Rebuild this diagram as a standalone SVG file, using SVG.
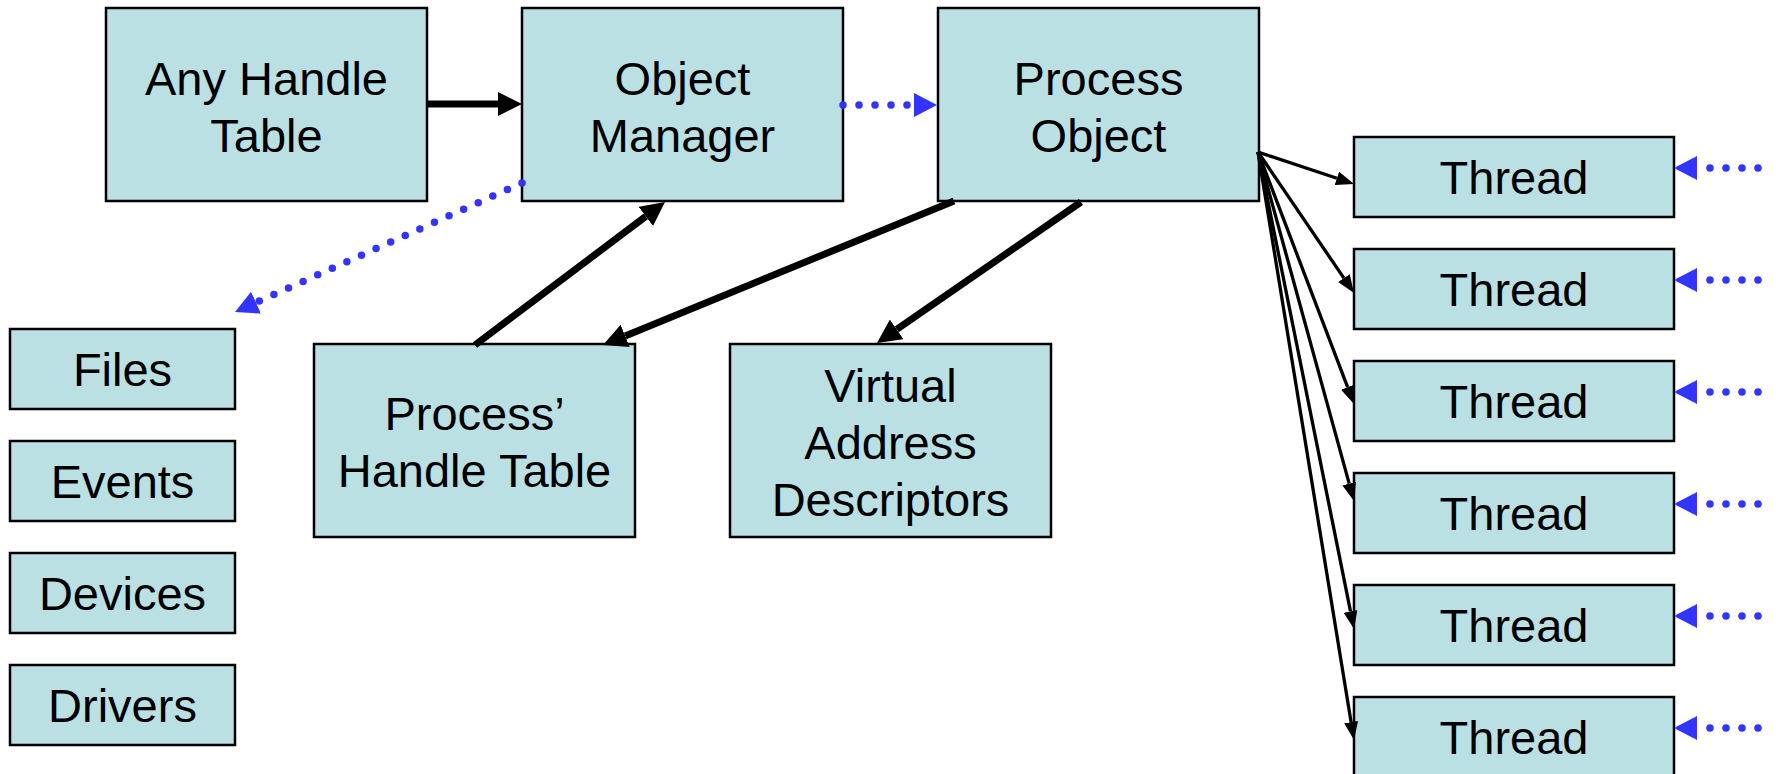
<svg xmlns="http://www.w3.org/2000/svg" width="1776" height="774" viewBox="0 0 1776 774">
<style>
.box{fill:#BBE0E3;stroke:#000;stroke-width:2.5}
.lbl{font-family:"Liberation Sans",Arial,sans-serif;font-size:47px;fill:#000;text-anchor:middle}
.thick{stroke:#000;stroke-width:7;fill:none;marker-end:url(#ahBlack)}
.thin{stroke:#000;stroke-width:3.3;fill:none;marker-end:url(#ahThin)}
.dots{stroke:#3333FF;stroke-width:7.5;stroke-linecap:round;stroke-dasharray:0 16;fill:none;marker-end:url(#ahBlue)}
</style>
<defs>
<marker id="ahBlack" markerUnits="userSpaceOnUse" markerWidth="24" markerHeight="24" viewBox="0 0 24 24" refX="0" refY="12" orient="auto"><path d="M0,0 L24,12 L0,24 z" fill="#000"/></marker>
<marker id="ahThin" markerUnits="userSpaceOnUse" markerWidth="18" markerHeight="14" viewBox="0 0 18 14" refX="0" refY="7" orient="auto"><path d="M0,0 L18,7 L0,14 z" fill="#000"/></marker>
<marker id="ahBlue" markerUnits="userSpaceOnUse" markerWidth="23" markerHeight="24" viewBox="0 0 23 24" refX="0" refY="12" orient="auto"><path d="M0,0 L23,12 L0,24 z" fill="#3333FF"/></marker>
</defs>
<rect width="1776" height="774" fill="#fff"/>
<g id="any-handle-table"><rect class="box" x="106" y="8" width="321" height="193"/><text class="lbl" x="266.5" y="95">Any Handle</text><text class="lbl" x="266.5" y="152">Table</text></g>
<g id="object-manager"><rect class="box" x="522" y="8" width="321" height="193"/><text class="lbl" x="682.5" y="95">Object</text><text class="lbl" x="682.5" y="152">Manager</text></g>
<g id="process-object"><rect class="box" x="938" y="8" width="321" height="193"/><text class="lbl" x="1098.5" y="95">Process</text><text class="lbl" x="1098.5" y="152">Object</text></g>
<g id="files"><rect class="box" x="10" y="329" width="225" height="80"/><text class="lbl" x="122.5" y="386">Files</text></g>
<g id="events"><rect class="box" x="10" y="441" width="225" height="80"/><text class="lbl" x="122.5" y="498">Events</text></g>
<g id="devices"><rect class="box" x="10" y="553" width="225" height="80"/><text class="lbl" x="122.5" y="610">Devices</text></g>
<g id="drivers"><rect class="box" x="10" y="665" width="225" height="80"/><text class="lbl" x="122.5" y="722">Drivers</text></g>
<g id="process-handle-table"><rect class="box" x="314" y="344" width="321" height="193"/><text class="lbl" x="474.5" y="430">Process’</text><text class="lbl" x="474.5" y="487">Handle Table</text></g>
<g id="vad"><rect class="box" x="730" y="344" width="321" height="193"/><text class="lbl" x="890.5" y="401.5">Virtual</text><text class="lbl" x="890.5" y="458.5">Address</text><text class="lbl" x="890.5" y="515.5">Descriptors</text></g>
<g id="thread-1"><rect class="box" x="1354" y="137" width="320" height="80"/><text class="lbl" x="1514" y="194">Thread</text></g>
<g id="thread-2"><rect class="box" x="1354" y="249" width="320" height="80"/><text class="lbl" x="1514" y="306">Thread</text></g>
<g id="thread-3"><rect class="box" x="1354" y="361" width="320" height="80"/><text class="lbl" x="1514" y="418">Thread</text></g>
<g id="thread-4"><rect class="box" x="1354" y="473" width="320" height="80"/><text class="lbl" x="1514" y="530">Thread</text></g>
<g id="thread-5"><rect class="box" x="1354" y="585" width="320" height="80"/><text class="lbl" x="1514" y="642">Thread</text></g>
<g id="thread-6"><rect class="box" x="1354" y="697" width="320" height="80"/><text class="lbl" x="1514" y="754">Thread</text></g>
<g id="connectors">
<path class="thick" d="M427,104 L498,104"/>
<path class="dots" d="M843,105 L914,105"/>
<path class="dots" d="M522,183 L256,302.6"/>
<path class="thick" d="M475,345 L645.8,216.4"/>
<path class="thick" d="M954,201 L625.2,335.9"/>
<path class="thick" d="M1081,202 L896.7,329.4"/>
<path class="thin" d="M1258,152 L1336.9,178.3"/>
<path class="thin" d="M1258,152 L1343.9,278.1"/>
<path class="thin" d="M1258,152 L1347.6,387.2"/>
<path class="thin" d="M1258,152 L1349.2,483.6"/>
<path class="thin" d="M1258,152 L1350.5,611.4"/>
<path class="thin" d="M1258,152 L1351.1,722.2"/>
<path class="dots" d="M1758,168 L1697,168"/>
<path class="dots" d="M1758,280 L1697,280"/>
<path class="dots" d="M1758,392 L1697,392"/>
<path class="dots" d="M1758,504 L1697,504"/>
<path class="dots" d="M1758,616 L1697,616"/>
<path class="dots" d="M1758,728 L1697,728"/>
</g>
</svg>
